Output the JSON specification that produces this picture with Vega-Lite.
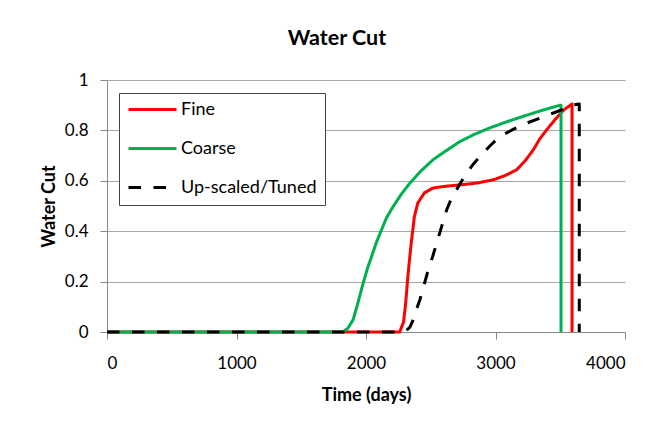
{
  "$schema": "https://vega.github.io/schema/vega-lite/v6.json",
  "autosize": {"type": "none"},
  "width": 518,
  "height": 252,
  "padding": {"left": 107, "top": 80, "right": 40, "bottom": 96},
  "background": "white",
  "title": {
    "text": "Water Cut",
    "font": "Lato",
    "fontSize": 21.5,
    "fontWeight": "bold",
    "color": "#000000",
    "baseline": "alphabetic",
    "offset": 4.5,
    "dx": -29
  },
  "data": {
    "values": [
      {"series": "Fine", "time": 0, "wc": 0},
      {"series": "Fine", "time": 2260, "wc": 0},
      {"series": "Fine", "time": 2290, "wc": 0.04},
      {"series": "Fine", "time": 2306, "wc": 0.112},
      {"series": "Fine", "time": 2323, "wc": 0.22},
      {"series": "Fine", "time": 2349, "wc": 0.353},
      {"series": "Fine", "time": 2374, "wc": 0.459},
      {"series": "Fine", "time": 2400, "wc": 0.512},
      {"series": "Fine", "time": 2451, "wc": 0.552},
      {"series": "Fine", "time": 2516, "wc": 0.571},
      {"series": "Fine", "time": 2580, "wc": 0.576},
      {"series": "Fine", "time": 2648, "wc": 0.58},
      {"series": "Fine", "time": 2750, "wc": 0.585},
      {"series": "Fine", "time": 2855, "wc": 0.591},
      {"series": "Fine", "time": 2983, "wc": 0.604},
      {"series": "Fine", "time": 3080, "wc": 0.622},
      {"series": "Fine", "time": 3164, "wc": 0.644},
      {"series": "Fine", "time": 3230, "wc": 0.68},
      {"series": "Fine", "time": 3292, "wc": 0.723},
      {"series": "Fine", "time": 3340, "wc": 0.765},
      {"series": "Fine", "time": 3396, "wc": 0.803},
      {"series": "Fine", "time": 3460, "wc": 0.843},
      {"series": "Fine", "time": 3524, "wc": 0.88},
      {"series": "Fine", "time": 3591, "wc": 0.905},
      {"series": "Fine", "time": 3591, "wc": 0},
      {"series": "Coarse", "time": 0, "wc": 0},
      {"series": "Coarse", "time": 1820, "wc": 0},
      {"series": "Coarse", "time": 1860, "wc": 0.015},
      {"series": "Coarse", "time": 1901, "wc": 0.049},
      {"series": "Coarse", "time": 1940, "wc": 0.12},
      {"series": "Coarse", "time": 1978, "wc": 0.194},
      {"series": "Coarse", "time": 2010, "wc": 0.25},
      {"series": "Coarse", "time": 2043, "wc": 0.3},
      {"series": "Coarse", "time": 2080, "wc": 0.355},
      {"series": "Coarse", "time": 2120, "wc": 0.406},
      {"series": "Coarse", "time": 2160, "wc": 0.455},
      {"series": "Coarse", "time": 2210, "wc": 0.498},
      {"series": "Coarse", "time": 2270, "wc": 0.545},
      {"series": "Coarse", "time": 2339, "wc": 0.591},
      {"series": "Coarse", "time": 2420, "wc": 0.637},
      {"series": "Coarse", "time": 2519, "wc": 0.684},
      {"series": "Coarse", "time": 2620, "wc": 0.72},
      {"series": "Coarse", "time": 2726, "wc": 0.756},
      {"series": "Coarse", "time": 2840, "wc": 0.785},
      {"series": "Coarse", "time": 2957, "wc": 0.81},
      {"series": "Coarse", "time": 3080, "wc": 0.833},
      {"series": "Coarse", "time": 3215, "wc": 0.856},
      {"series": "Coarse", "time": 3350, "wc": 0.878},
      {"series": "Coarse", "time": 3498, "wc": 0.9},
      {"series": "Coarse", "time": 3506, "wc": 0.9},
      {"series": "Coarse", "time": 3506, "wc": 0},
      {"series": "Up-scaled/Tuned", "time": 0, "wc": 0},
      {"series": "Up-scaled/Tuned", "time": 2270, "wc": 0},
      {"series": "Up-scaled/Tuned", "time": 2310, "wc": 0.005},
      {"series": "Up-scaled/Tuned", "time": 2340, "wc": 0.02},
      {"series": "Up-scaled/Tuned", "time": 2365, "wc": 0.049},
      {"series": "Up-scaled/Tuned", "time": 2390, "wc": 0.09},
      {"series": "Up-scaled/Tuned", "time": 2416, "wc": 0.128},
      {"series": "Up-scaled/Tuned", "time": 2450, "wc": 0.19},
      {"series": "Up-scaled/Tuned", "time": 2481, "wc": 0.247},
      {"series": "Up-scaled/Tuned", "time": 2515, "wc": 0.3},
      {"series": "Up-scaled/Tuned", "time": 2546, "wc": 0.353},
      {"series": "Up-scaled/Tuned", "time": 2585, "wc": 0.42},
      {"series": "Up-scaled/Tuned", "time": 2623, "wc": 0.485},
      {"series": "Up-scaled/Tuned", "time": 2660, "wc": 0.53},
      {"series": "Up-scaled/Tuned", "time": 2700, "wc": 0.565},
      {"series": "Up-scaled/Tuned", "time": 2740, "wc": 0.6},
      {"series": "Up-scaled/Tuned", "time": 2777, "wc": 0.631},
      {"series": "Up-scaled/Tuned", "time": 2830, "wc": 0.667},
      {"series": "Up-scaled/Tuned", "time": 2880, "wc": 0.697},
      {"series": "Up-scaled/Tuned", "time": 2960, "wc": 0.74},
      {"series": "Up-scaled/Tuned", "time": 3035, "wc": 0.776},
      {"series": "Up-scaled/Tuned", "time": 3140, "wc": 0.805},
      {"series": "Up-scaled/Tuned", "time": 3241, "wc": 0.829},
      {"series": "Up-scaled/Tuned", "time": 3350, "wc": 0.85},
      {"series": "Up-scaled/Tuned", "time": 3447, "wc": 0.869},
      {"series": "Up-scaled/Tuned", "time": 3550, "wc": 0.889},
      {"series": "Up-scaled/Tuned", "time": 3589, "wc": 0.9},
      {"series": "Up-scaled/Tuned", "time": 3647, "wc": 0.905},
      {"series": "Up-scaled/Tuned", "time": 3647, "wc": 0}
    ]
  },
  "mark": {"type": "line", "strokeWidth": 3, "strokeCap": "butt", "strokeJoin": "round"},
  "encoding": {
    "x": {
      "field": "time",
      "type": "quantitative",
      "title": "Time (days)",
      "scale": {"domain": [0, 4000], "nice": false},
      "axis": {
        "values": [0, 1000, 2000, 3000, 4000],
        "format": "d",
        "grid": false,
        "labelPadding": 16,
        "titlePadding": 15
      }
    },
    "y": {
      "field": "wc",
      "type": "quantitative",
      "title": "Water Cut",
      "scale": {"domain": [0, 1], "nice": false},
      "axis": {
        "values": [0, 0.2, 0.4, 0.6, 0.8, 1],
        "format": "~g",
        "grid": true,
        "labelPadding": 12,
        "titlePadding": 6
      }
    },
    "color": {
      "field": "series",
      "type": "nominal",
      "scale": {
        "domain": ["Fine", "Coarse", "Up-scaled/Tuned"],
        "range": ["#FF0000", "#00B050", "#000000"]
      },
      "legend": {
        "title": null,
        "orient": "none",
        "legendX": 12,
        "legendY": 13,
        "direction": "vertical",
        "symbolType": "stroke",
        "symbolSize": 2304,
        "symbolStrokeWidth": 3,
        "clipHeight": 17,
        "labelFont": "Lato",
        "labelFontSize": 18,
        "labelColor": "#000000",
        "labelOffset": 3,
        "padding": 8,
        "rowPadding": 20,
        "strokeColor": "#444444",
        "fillColor": "white"
      }
    },
    "strokeDash": {
      "field": "series",
      "type": "nominal",
      "scale": {
        "domain": ["Fine", "Coarse", "Up-scaled/Tuned"],
        "range": [[1, 0], [1, 0], [12.5, 12.5]]
      },
      "legend": null
    }
  },
  "config": {
    "font": "Lato",
    "view": {"stroke": null},
    "axis": {
      "labelFont": "Lato",
      "labelFontSize": 17,
      "labelColor": "#000000",
      "titleFont": "Lato",
      "titleFontSize": 18,
      "titleFontWeight": "bold",
      "titleColor": "#000000",
      "domainColor": "#888888",
      "domainWidth": 1,
      "tickColor": "#888888",
      "tickSize": 7,
      "gridColor": "#A6A6A6",
      "gridWidth": 1
    }
  }
}
